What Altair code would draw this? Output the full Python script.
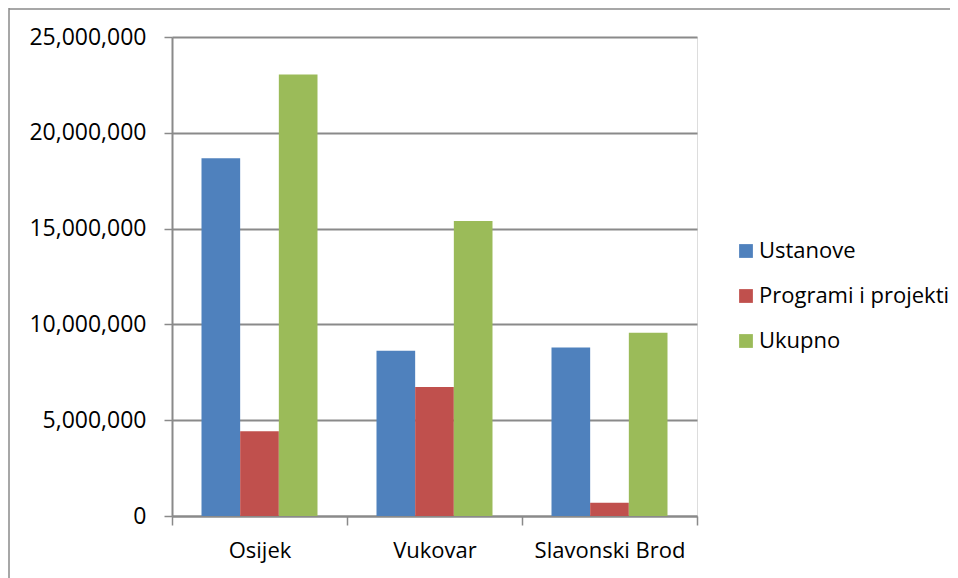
import altair as alt
import pandas as pd

cities = ["Osijek", "Vukovar", "Slavonski Brod"]
series = ["Ustanove", "Programi i projekti", "Ukupno"]
ustanove = [18670000, 8630000, 8790000]
programi = [4420000, 6730000, 690000]
ukupno = [23040000, 15400000, 9560000]
colors = ["#4F81BD", "#C0504D", "#9BBB59"]
y_ticks = [0, 5000000, 10000000, 15000000, 20000000, 25000000]

rows = []
for i, c in enumerate(cities):
    for s, vals in zip(series, [ustanove, programi, ukupno]):
        rows.append({"grad": c, "serija": s, "iznos": vals[i]})
df = pd.DataFrame(rows)

W, H = 525, 479
PL, PT, PR, PB = 164, 29, 253, 62
FONT = "Open Sans"
GRAY = "#8a8a8a"

bars = alt.Chart(df).mark_bar().encode(
    x=alt.X(
        "grad:N", sort=cities, title=None,
        scale=alt.Scale(paddingInner=0, paddingOuter=0),
        axis=alt.Axis(
            labelAngle=0, tickBand="extent", tickSize=9, tickColor=GRAY,
            tickWidth=1.5, domainColor=GRAY, domainWidth=2, labelFontSize=22,
            labelPadding=15, labelColor="#000000", labelFont=FONT, grid=False,
        ),
    ),
    xOffset=alt.XOffset("serija:N", sort=series,
                        scale=alt.Scale(paddingInner=0, paddingOuter=0.763)),
    y=alt.Y(
        "iznos:Q", title=None,
        scale=alt.Scale(domain=[0, 25000000], nice=False),
        axis=alt.Axis(
            values=y_ticks, format=",d", tickSize=8, tickColor=GRAY,
            tickWidth=1.5, domainColor=GRAY, domainWidth=2, gridColor=GRAY,
            gridWidth=2, labelFontSize=23, labelPadding=18,
            labelColor="#000000", labelFont=FONT,
        ),
    ),
    color=alt.Color(
        "serija:N", sort=series,
        scale=alt.Scale(domain=series, range=colors),
        legend=alt.Legend(
            title=None, orient="none", legendX=563, legendY=203,
            symbolType="square", symbolSize=190, symbolStrokeWidth=0,
            labelFontSize=22, labelFont=FONT, labelColor="#000000",
            labelOffset=2, rowPadding=23, padding=0, labelLimit=0,
        ),
    ),
)

one = pd.DataFrame({"k": [0]})
border_left = alt.Chart(one).mark_rule(color=GRAY, strokeWidth=1.5).encode(
    x=alt.value(-163), y=alt.value(-29), y2=alt.value(H + PB)
)
border_top = alt.Chart(one).mark_rule(color=GRAY, strokeWidth=1.5).encode(
    x=alt.value(-163), x2=alt.value(W + PR), y=alt.value(-28)
)

chart = alt.layer(bars, border_left, border_top).properties(
    width=W, height=H,
    padding={"left": PL, "top": PT, "right": PR, "bottom": PB},
    autosize=alt.AutoSizeParams(type="none"),
).configure_view(stroke=None).configure(font=FONT)

chart.save("out.html", embed_options={"renderer": "svg", "actions": False})
